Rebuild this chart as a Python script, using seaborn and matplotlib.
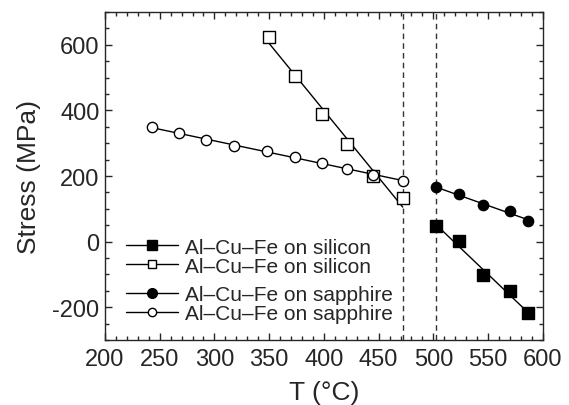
import seaborn as sns
import matplotlib.pyplot as plt
from matplotlib.ticker import MultipleLocator
from matplotlib.lines import Line2D
import pandas as pd

# values
si_open_T = [350, 374, 398, 421, 445, 472]
si_open_S = [625, 506, 389, 299, 201, 133]
sa_open_T = [243, 268, 292, 318, 348, 374, 398, 421, 445, 472]
sa_open_S = [348, 331, 311, 291, 275, 258, 239, 222, 204, 186]
sa_fill_T = [502, 523, 545, 570, 586]
sa_fill_S = [165, 145, 112, 93, 63]
si_fill_T = [502, 523, 545, 570, 586]
si_fill_S = [49, 1, -102, -152, -218]
dash_T = [472, 502]

sns.set_style("ticks")
plt.rcParams['font.family'] = ['Liberation Sans', 'DejaVu Sans']
plt.rcParams['axes.unicode_minus'] = False
plt.rcParams['xtick.direction'] = 'in'
plt.rcParams['ytick.direction'] = 'in'

fig = plt.figure(figsize=(5.69, 4.06), dpi=100)
ax = fig.add_axes([0.1845, 0.160, 0.7695, 0.808])

series = [
    (si_fill_T, si_fill_S, 's', 'black'),
    (si_open_T, si_open_S, 's', 'white'),
    (sa_fill_T, sa_fill_S, 'o', 'black'),
    (sa_open_T, sa_open_S, 'o', 'white'),
]
for T, S, m, fc in series:
    df = pd.DataFrame({'T': T, 'S': S})
    sns.regplot(data=df, x='T', y='S', ci=None, scatter=False, ax=ax,
                line_kws={'color': 'black', 'lw': 1.0})
    ms = 70 if m == 's' else 55
    sns.scatterplot(data=df, x='T', y='S', marker=m, s=ms, color=fc,
                    edgecolor='black', linewidth=1.0, ax=ax, zorder=3)

for t in dash_T:
    ax.axvline(t, color='#333333', ls=(0, (4, 3)), lw=1.0, zorder=1)

ax.set_xlim(200, 600)
ax.set_ylim(-300, 700)
ax.xaxis.set_major_locator(MultipleLocator(50))
ax.xaxis.set_minor_locator(MultipleLocator(10))
ax.yaxis.set_major_locator(MultipleLocator(200))
ax.yaxis.set_minor_locator(MultipleLocator(50))
ax.tick_params(which='both', top=True, right=True, labelsize=17, width=1)
ax.tick_params(which='major', length=5)
ax.tick_params(which='minor', length=3)
ax.tick_params(axis='y', pad=4)
ax.tick_params(axis='x', pad=6)
for sp in ax.spines.values():
    sp.set_linewidth(1.0)
ax.set_xlabel('T (°C)', fontsize=19, labelpad=7)
ax.set_ylabel('Stress (MPa)', fontsize=19, labelpad=8)

lab_si = 'Al–Cu–Fe on silicon'
lab_sa = 'Al–Cu–Fe on sapphire'
h_si = [Line2D([], [], color='black', lw=1, marker='s', ms=7, mfc='black', mec='black'),
        Line2D([], [], color='black', lw=1, marker='s', ms=6, mfc='white', mec='black')]
h_sa = [Line2D([], [], color='black', lw=1, marker='o', ms=7, mfc='black', mec='black'),
        Line2D([], [], color='black', lw=1, marker='o', ms=6, mfc='white', mec='black')]
kw = dict(frameon=False, fontsize=15, handlelength=2.5, handletextpad=0.33,
          labelspacing=0.0, borderaxespad=0.0, borderpad=0.0)
leg1 = ax.legend(h_si, [lab_si, lab_si], loc='center left',
                 bbox_to_anchor=(0.048, 0.2546), **kw)
ax.add_artist(leg1)
ax.legend(h_sa, [lab_sa, lab_sa], loc='center left',
          bbox_to_anchor=(0.048, 0.1098), **kw)

fig.savefig('out.png', dpi=100)
